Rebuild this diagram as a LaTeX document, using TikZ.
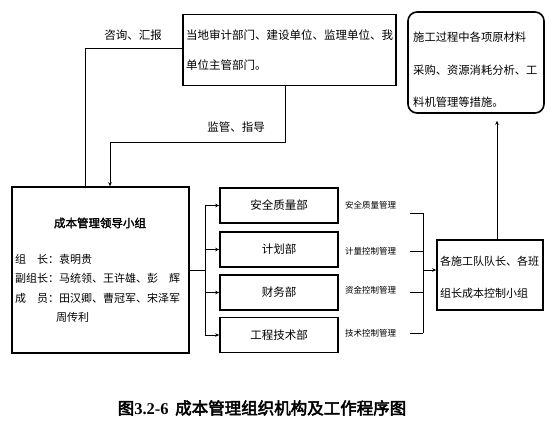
\documentclass[tikz,border=0pt]{standalone}
\usepackage{fontspec}
\setmainfont{Noto Sans CJK SC}[AutoFakeBold=2]
\newfontfamily\capfont{Noto Sans CJK SC}[AutoFakeBold=3]
\newfontfamily\capdig{Liberation Serif}
\usetikzlibrary{arrows.meta}
\begin{document}
\begin{tikzpicture}[x=1pt,y=-1pt,
  box/.style={draw, line width=1.6pt, inner sep=0pt},
  txt/.style={inner sep=0pt, font=\fontsize{11.5}{14}\selectfont},
  small/.style={inner sep=0pt, font=\fontsize{8.5}{10}\selectfont},
  conn/.style={line width=0.6pt},
  arr/.style={conn, -{Stealth[length=4pt,width=3.5pt]}}]
\useasboundingbox (0,0) rectangle (554,429);
% top box
\node[box, minimum width=213pt, minimum height=71pt] (top) at (289.5,50) {};
\node[txt, anchor=west] (t1) at (186,35) {当地审计部门、建设单位、监理单位、我};
\node[txt, anchor=west] (t2) at (186,65) {单位主管部门。};
% rounded box
\node[box, rounded corners=9pt, minimum width=136pt, minimum height=101pt] (rb) at (476,62.5) {};
\node[txt, anchor=west, font=\fontsize{11.3}{14}\selectfont] (r1) at (413,37) {施工过程中各项原材料};
\node[txt, anchor=west, font=\fontsize{11.3}{14}\selectfont] (r2) at (413,70) {采购、资源消耗分析、工};
\node[txt, anchor=west, font=\fontsize{11.3}{14}\selectfont] (r3) at (413,102) {料机管理等措施。};
% leader box
\node[box, minimum width=177pt, minimum height=166pt] (lead) at (100.5,270) {};
\node[txt, font=\fontsize{11.5}{14}\selectfont\bfseries] (lt) at (100,223) {成本管理领导小组};
\node[txt, anchor=west, font=\fontsize{11}{14}\selectfont] (l1) at (15,259) {组\hspace{1em}长：袁明贵};
\node[txt, anchor=west, font=\fontsize{11}{14}\selectfont] (l2) at (15,278) {副组长：马统领、王许雄、彭\hspace{1em}辉};
\node[txt, anchor=west, font=\fontsize{11}{14}\selectfont] (l3) at (15,298) {成\hspace{1em}员：田汉卿、曹冠军、宋泽军};
\node[txt, anchor=west, font=\fontsize{11}{14}\selectfont] (l4) at (56,317) {周传利};
% departments
\node[box, minimum width=118pt, minimum height=35pt, font=\fontsize{11.5}{14}\selectfont] (d1) at (279,205.5) {安全质量部};
\node[box, minimum width=118pt, minimum height=35pt, font=\fontsize{11.5}{14}\selectfont] (d2) at (279,249.5) {计划部};
\node[box, minimum width=118pt, minimum height=35pt, font=\fontsize{11.5}{14}\selectfont] (d3) at (279,292.5) {财务部};
\node[box, minimum width=118pt, minimum height=35pt, font=\fontsize{11.5}{14}\selectfont] (d4) at (279,335) {工程技术部};
% small labels
\node[small, anchor=west] (s1) at (345,205) {安全质量管理};
\node[small, anchor=west] (s2) at (345,251) {计量控制管理};
\node[small, anchor=west] (s3) at (345,290) {资金控制管理};
\node[small, anchor=west] (s4) at (345,333) {技术控制管理};
% right box
\node[box, minimum width=106pt, minimum height=70pt] (rt) at (490,275) {};
\node[txt, anchor=west, font=\fontsize{11}{14}\selectfont] (rt1) at (440,261) {各施工队队长、各班};
\node[txt, anchor=west, font=\fontsize{11}{14}\selectfont] (rt2) at (440,293) {组长成本控制小组};
% edge labels
\node[txt] (e1) at (133,35) {咨询、汇报};
\node[txt] (e2) at (236,127) {监管、指导};
% caption
\node[inner sep=0pt, font=\fontsize{16.5}{18}\selectfont] (cap) at (262,408) {{\capfont\bfseries 图}{\capdig\bfseries 3.2-6}\hspace{0.4em}{\capfont\bfseries 成本管理组织机构及工作程序图}};
% connectors
\coordinate (a1) at (85,48);
\draw[conn] (top.west |- a1) -- (a1) -- (a1 |- lead.north);
\coordinate (a2) at (285,142);
\coordinate (a3) at (110,142);
\draw[arr] (a2 |- top.south) -- (a2) -- (a3) -- (a3 |- lead.north);
\coordinate (lj) at (205,270);
\draw[conn] (lead.east |- lj) -- (lj);
\draw[conn] (lj |- d1.west) -- (lj |- d4.west);
\foreach \d in {d1,d2,d3,d4} \draw[arr] (lj |- \d.west) -- (\d.west);
\coordinate (b1) at (410,213);
\coordinate (b2) at (410,251);
\coordinate (b3) at (410,292);
\coordinate (b4) at (410,333);
\coordinate (rj) at (423,270);
\foreach \b in {b1,b2,b3,b4} \draw[conn] (\b) -- (\b -| rj);
\draw[conn] (b1 -| rj) -- (b4 -| rj);
\draw[arr] (rj) -- (rj -| rt.west);
\coordinate (c1) at (497,240);
\draw[arr, shorten >=7pt] (c1 |- rt.north) -- (c1 |- rb.south);
\end{tikzpicture}
\end{document}
